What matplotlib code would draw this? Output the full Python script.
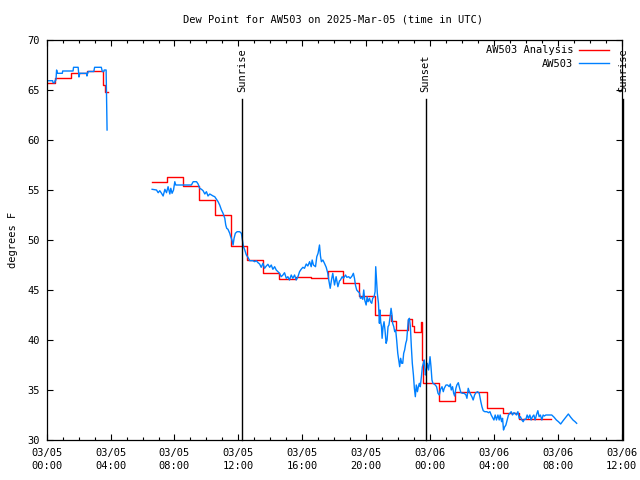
import numpy as np
import pandas as pd
import matplotlib
matplotlib.use('Agg')
import matplotlib.pyplot as plt
import matplotlib.dates as mdates

# hours after 2025-03-05 00:00 UTC
analysis_hours = [0.0, 0.55, 1.55, 2.55, 3.55, 3.66, 3.81, 3.81,
                  6.6, 7.55, 8.55, 9.55, 10.55, 11.55, 12.55, 13.55, 14.55, 15.6,
                  16.55, 17.6, 18.55, 19.55, 20.55, 21.55, 21.85, 22.6, 22.9, 23.0,
                  23.45, 23.5, 23.58, 24.58, 25.55, 27.55, 28.55, 29.55, 31.6]
analysis_dewpt = [65.67, 66.17, 66.67, 66.87, 65.5, 64.77, 64.77, np.nan,
                  55.77, 56.3, 55.4, 54.0, 52.5, 49.4, 48.0, 46.7, 46.07, 46.27,
                  46.17, 46.87, 45.67, 44.4, 42.47, 41.85, 41.0, 42.07, 41.4, 40.83,
                  41.83, 38.0, 35.67, 33.87, 34.77, 33.17, 32.73, 32.07, 32.07]

obs_hours = [0.0, 0.37, 0.4, 0.5, 0.52, 0.58, 0.62, 0.67, 0.98, 1.0, 1.65, 1.68,
             1.97, 2.02, 2.07, 2.5, 2.52, 2.56, 2.6, 2.95, 3.0, 3.42, 3.48, 3.58,
             3.6, 3.72, 3.75, 3.78, 5.0,
             6.6, 6.875, 6.98, 7.08, 7.19, 7.29, 7.4, 7.5, 7.6, 7.71, 7.77, 7.85,
             7.94, 8.02, 8.08, 8.23, 8.54, 9.06, 9.17, 9.38, 9.48, 9.58, 9.69,
             9.79, 9.9, 10.0, 10.1, 10.21, 10.31, 10.42, 10.52, 10.63, 10.73,
             10.83, 10.94, 11.04, 11.15, 11.21, 11.27, 11.35, 11.46, 11.52, 11.6,
             11.67, 11.73, 11.81, 11.92, 12.08, 12.19, 12.25, 12.31, 12.4, 12.5,
             12.6, 12.71, 12.81, 12.91, 13.02, 13.12, 13.23, 13.33, 13.43, 13.54,
             13.64, 13.75, 13.85, 13.96, 14.06, 14.16, 14.27, 14.37, 14.48, 14.58,
             14.68, 14.79, 14.89, 15.0, 15.1, 15.2, 15.31, 15.41, 15.52, 15.62,
             15.73, 15.83, 15.93, 16.04, 16.14, 16.25, 16.35, 16.46, 16.56, 16.62,
             16.7, 16.83, 16.91, 16.99, 17.08, 17.14, 17.2, 17.29, 17.39, 17.5,
             17.6, 17.66, 17.75, 17.83, 17.91, 18.02, 18.12, 18.23,
             18.33, 18.39, 18.5, 18.58, 18.71, 18.79, 18.91, 19.0, 19.12, 19.2,
             19.27, 19.33, 19.41, 19.5, 19.58, 19.64, 19.71, 19.79, 19.85, 19.91,
             20.0, 20.06, 20.12, 20.21, 20.27, 20.35, 20.41, 20.5, 20.56, 20.6,
             20.64, 20.7, 20.77, 20.83, 20.87, 20.91, 20.96, 21.0, 21.06, 21.12,
             21.18, 21.25, 21.31, 21.37, 21.43, 21.5, 21.56, 21.62, 21.66, 21.73,
             21.79, 21.85, 21.91, 21.98, 22.04, 22.1, 22.16, 22.23, 22.29, 22.35,
             22.41, 22.48, 22.54, 22.58, 22.64, 22.71, 22.77, 22.83, 22.89, 22.96,
             23.02, 23.08, 23.14, 23.21, 23.27, 23.33, 23.39, 23.46, 23.52, 23.58,
             23.64, 23.71, 23.77, 23.83, 23.91, 24.0, 24.06, 24.12, 24.18, 24.25,
             24.33, 24.41, 24.5, 24.58,
             24.66, 24.75, 24.83, 24.89, 25.0, 25.1, 25.2, 25.27, 25.33, 25.41,
             25.48, 25.54, 25.62, 25.68, 25.77, 25.83, 25.93, 26.04, 26.14, 26.25,
             26.31, 26.39, 26.46, 26.56, 26.62, 26.7, 26.79, 26.87, 26.98, 27.08,
             27.18, 27.25, 27.33, 27.43, 27.56, 27.66, 27.75, 27.83, 27.91, 28.0,
             28.08, 28.16, 28.25, 28.33, 28.39, 28.48, 28.54, 28.6, 28.66, 28.75,
             28.83, 28.91, 29.0, 29.08, 29.16, 29.25, 29.33, 29.41, 29.5, 29.58,
             29.66, 29.75, 29.83, 29.91, 30.0, 30.08, 30.16, 30.25, 30.33, 30.41,
             30.5, 30.58, 30.66, 30.75, 30.83, 30.91, 31.0, 31.08, 31.16, 31.25,
             31.45, 31.62, 31.77, 31.91, 32.04, 32.18, 32.33, 32.5, 32.66, 32.81,
             32.95, 33.08, 33.18]
obs_dewpt = [65.93, 65.93, 65.73, 65.73, 65.93, 66.0, 67.0, 66.67, 66.67, 66.9, 66.9, 67.27,
             67.27, 66.3, 66.67, 66.67, 66.4, 66.67, 66.85, 66.85, 67.27, 67.27, 66.85, 66.85,
             67.0, 67.0, 64.0, 61.0, np.nan,
             55.07, 55.0, 54.73, 54.93, 54.67, 54.4, 55.07, 54.73, 55.33, 54.6, 55.17, 54.67,
             55.0, 55.83, 55.5, 55.5, 55.5, 55.5, 55.83, 55.83, 55.6, 55.17, 55.07,
             54.93, 54.6, 54.83, 54.4, 54.6, 54.5, 54.4, 54.33, 54.07, 53.83,
             53.5, 53.0, 52.67, 52.17, 51.5, 51.17, 51.07, 50.67, 50.33, 50.0,
             49.5, 50.17, 50.67, 50.83, 50.83, 50.67, 50.0, 49.4, 49.0, 48.5,
             48.27, 47.93, 47.93, 47.93, 47.83, 47.93, 47.73, 47.6, 47.27, 47.67,
             47.17, 47.4, 47.57, 47.27, 47.5, 47.07, 47.33, 47.0, 46.83, 46.67,
             46.33, 46.5, 46.73, 46.17, 46.33, 46.0, 46.5, 46.17, 46.5, 46.0,
             46.33, 46.83, 47.07, 47.27, 47.17, 47.6, 47.4, 47.83, 47.33, 48.0,
             47.5, 47.33, 48.33, 48.67, 49.5, 48.4, 47.83, 48.0, 47.67, 47.27,
             46.67, 46.0, 45.17, 46.0, 46.67, 45.5, 46.33, 45.33,
             45.9, 46.0, 46.33, 46.17, 46.5, 46.27, 46.33, 46.17, 46.4, 46.67,
             46.17, 45.5, 45.0, 44.83, 44.73, 44.17, 44.27, 44.07, 45.0, 44.0,
             43.5, 44.33, 43.83, 44.17, 43.83, 43.67, 44.17, 44.33, 44.83, 47.33,
             46.33, 44.67, 43.67, 41.67, 43.0, 41.83, 41.33, 40.17, 41.33, 41.83,
             41.0, 39.67, 40.0, 41.33, 41.5, 42.33, 43.17, 42.5, 41.67, 41.33,
             40.83, 41.0, 40.0, 38.67, 38.0, 37.33, 38.17, 37.67, 37.67, 38.67,
             39.0, 39.67, 40.0, 40.83, 42.0, 42.17, 41.33, 39.33, 37.67, 36.5,
             35.17, 34.33, 35.5, 34.83, 35.33, 35.67, 35.33, 36.33, 37.33, 37.67,
             38.0, 36.5, 37.0, 37.67, 37.0, 38.33, 37.33, 36.0, 35.67, 35.6,
             35.5, 35.33, 34.67, 34.5,
             35.07, 35.33, 34.83, 35.17, 35.5, 35.5, 35.33, 35.6, 35.0, 35.33,
             34.67, 34.4, 35.17, 35.5, 35.73, 35.33, 34.73, 34.67, 34.67, 34.5,
             34.17, 35.17, 34.83, 34.5, 34.33, 34.0, 34.5, 34.73, 34.83, 34.67,
             33.83, 33.33, 32.93, 32.83, 32.83, 32.73, 32.83, 32.5, 32.27, 32.0,
             32.5, 32.0, 32.5, 32.0, 32.5, 31.83, 32.17, 31.0, 31.27, 31.5,
             32.0, 32.5, 32.67, 32.83, 32.5, 32.73, 32.67, 32.5, 32.83, 32.17,
             32.33, 32.0, 31.83, 32.07, 32.07, 32.5, 32.17, 32.5, 32.0, 32.33,
             32.5, 32.0, 32.5, 32.93, 32.33, 32.5, 32.0, 32.5, 32.4, 32.5,
             32.5, 32.5, 32.27, 32.0, 31.83, 31.6, 31.93, 32.27, 32.6, 32.27,
             32.0, 31.83, 31.67]

sun_events = ['Sunrise', 'Sunset', 'Sunrise']
sun_hours = [12.22, 23.73, 36.1]

start = pd.Timestamp('2025-03-05 00:00')
t_analysis = start + pd.to_timedelta(analysis_hours, unit='h')
t_obs = start + pd.to_timedelta(obs_hours, unit='h')
t_sun = start + pd.to_timedelta(sun_hours, unit='h')

mono = 'DejaVu Sans Mono'
fs = 7.5
plt.rcParams['font.family'] = mono
plt.rcParams['font.size'] = fs

fig = plt.figure(figsize=(6.4, 4.8), dpi=100)
ax = fig.add_axes([46.7 / 640, 40 / 480, 575 / 640, 400 / 480])

ax.step(t_analysis, analysis_dewpt, where='post', color='#ff0000', lw=1.0,
        label='AW503 Analysis')
ax.plot(t_obs, obs_dewpt, color='#0080ff', lw=1.0, label='AW503')

for name, t in zip(sun_events, t_sun):
    ax.plot([t, t], [30, 64.1], color='black', lw=1.0, clip_on=False)
    ax.text(t, 64.75, name, rotation=90, ha='center', va='bottom',
            fontsize=fs, clip_on=False)

ax.set_xlim(start, start + pd.Timedelta(hours=36))
ax.set_ylim(30, 70)
ax.set_yticks(range(30, 71, 5))
ax.xaxis.set_major_locator(mdates.HourLocator(byhour=range(0, 24, 4)))
ax.xaxis.set_minor_locator(mdates.HourLocator())
ax.xaxis.set_major_formatter(mdates.DateFormatter('%m/%d\n%H:%M'))
ax.tick_params(which='both', direction='in', top=True, right=True, width=0.8)
ax.tick_params(which='major', length=4.5)
ax.tick_params(which='minor', length=2.5)
ax.tick_params(axis='y', pad=5)
ax.tick_params(axis='x', pad=6)
for lbl in ax.get_xticklabels():
    lbl.set_linespacing(1.3)
for sp in ax.spines.values():
    sp.set_linewidth(0.9)

ax.set_ylabel('degrees F', labelpad=7)
fig.text(333 / 640, 1 - 19 / 480, 'Dew Point for AW503 on 2025-Mar-05 (time in UTC)',
         ha='center', va='center', fontsize=fs)

ax.legend(loc='upper right', bbox_to_anchor=(0.986, 0.997), frameon=False,
          markerfirst=False, handlelength=2.9, handletextpad=0.6,
          labelspacing=0.35, borderaxespad=0.0, fontsize=fs)

fig.savefig('out.png', dpi=100)
